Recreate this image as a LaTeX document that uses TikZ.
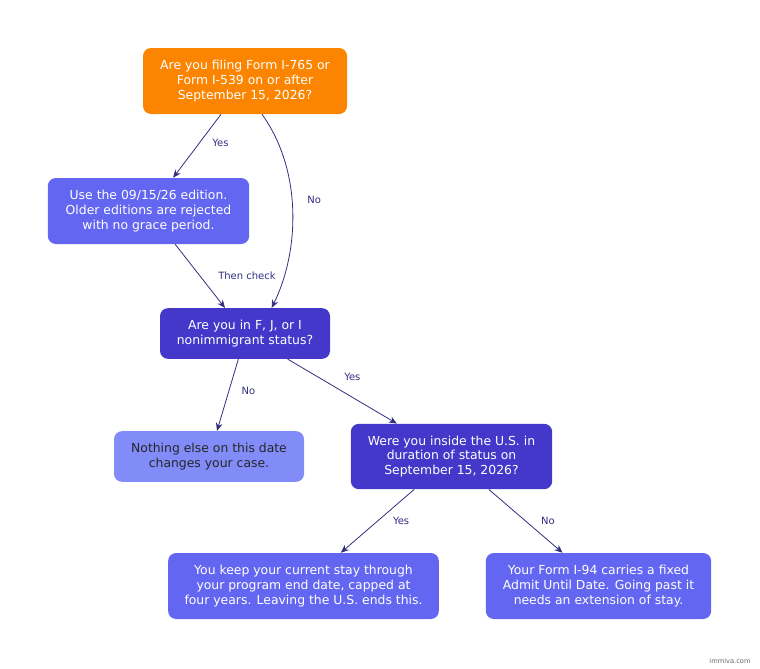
\documentclass[tikz,border=0pt]{standalone}
\usepackage{fontspec}
\setmainfont{DejaVu Sans}
\usetikzlibrary{arrows.meta}
\definecolor{qorange}{HTML}{FB8500}
\definecolor{qmid}{HTML}{6366F1}
\definecolor{qdark}{HTML}{4338CA}
\definecolor{qlight}{HTML}{818CF8}
\definecolor{qedge}{HTML}{312E81}
\tikzset{
  box/.style={rounded corners=6pt, text=white, align=center, font=\fontsize{9.3}{11}\selectfont, inner sep=0pt},
  flow/.style={draw=qedge, semithick, -{Stealth[length=6pt,width=5pt]}},
  lbl/.style={text=qedge, font=\fontsize{7.5}{9}\selectfont}
}
\begin{document}
\begin{tikzpicture}[x=0.75pt, y=-0.75pt]
                    % Canvas
                    \useasboundingbox (0,0) rectangle (760,668);

                    % Questions and outcomes
                    \node[box, fill=qorange, minimum width=153pt, minimum height=49.5pt] (filing) at (245,81)
                        {Are you filing Form I-765 or\\Form I-539 on or after\\September 15, 2026?};
                    \node[box, fill=qmid, minimum width=151pt, minimum height=49.5pt] (edition) at (148.5,211)
                        {Use the 09/15/26 edition.\\Older editions are rejected\\with no grace period.};
                    \node[box, fill=qdark, minimum width=127.5pt, minimum height=38pt] (status) at (245,333.5)
                        {Are you in F, J, or I\\nonimmigrant status?};
                    \node[box, fill=qlight, text=black!85, minimum width=142.5pt, minimum height=38pt] (nothing) at (209,456.5)
                        {Nothing else on this date\\changes your case.};
                    \node[box, fill=qdark, minimum width=151pt, minimum height=49pt] (inside) at (451.5,456.5)
                        {Were you inside the U.S. in\\duration of status on\\September 15, 2026?};
                    \node[box, fill=qmid, minimum width=203pt, minimum height=49.5pt] (keep) at (303.5,586)
                        {You keep your current stay through\\your program end date, capped at\\four years. Leaving the U.S. ends this.};
                    \node[box, fill=qmid, minimum width=169pt, minimum height=49.5pt] (fixed) at (598.5,586)
                        {Your Form I-94 carries a fixed\\Admit Until Date. Going past it\\needs an extension of stay.};

                    % Connectors
                    \draw[flow] ([xshift=-18pt]filing.south) -- node[lbl, pos=0.45, right=6pt] {Yes} ([xshift=18.5pt]edition.north);
                    \draw[flow] ([xshift=12.75pt]filing.south) .. controls (302,170) and (300,250) .. node[lbl, pos=0.45, right=8pt] {No} ([xshift=20pt]status.north);
                    \draw[flow] ([xshift=20pt]edition.south) -- node[lbl, pos=0.5, right=10pt] {Then check} ([xshift=-15pt]status.north);
                    \draw[flow] ([xshift=-5pt]status.south) -- node[lbl, pos=0.45, right=6pt] {No} ([xshift=6pt]nothing.north);
                    \draw[flow] ([xshift=32pt]status.south) -- node[lbl, pos=0.45, above right=2pt] {Yes} ([xshift=-41pt]inside.north);
                    \draw[flow] ([xshift=-28pt]inside.south) -- node[lbl, pos=0.5, right=8pt] {Yes} ([xshift=28pt]keep.north);
                    \draw[flow] ([xshift=28pt]inside.south) -- node[lbl, pos=0.5, right=8pt] {No} ([xshift=-27pt]fixed.north);

                    % Watermark
                    \node[text=black!60, font=\fontsize{5}{6}\selectfont] (mark) at (730,661) {immiva.com};
\end{tikzpicture}
\end{document}
